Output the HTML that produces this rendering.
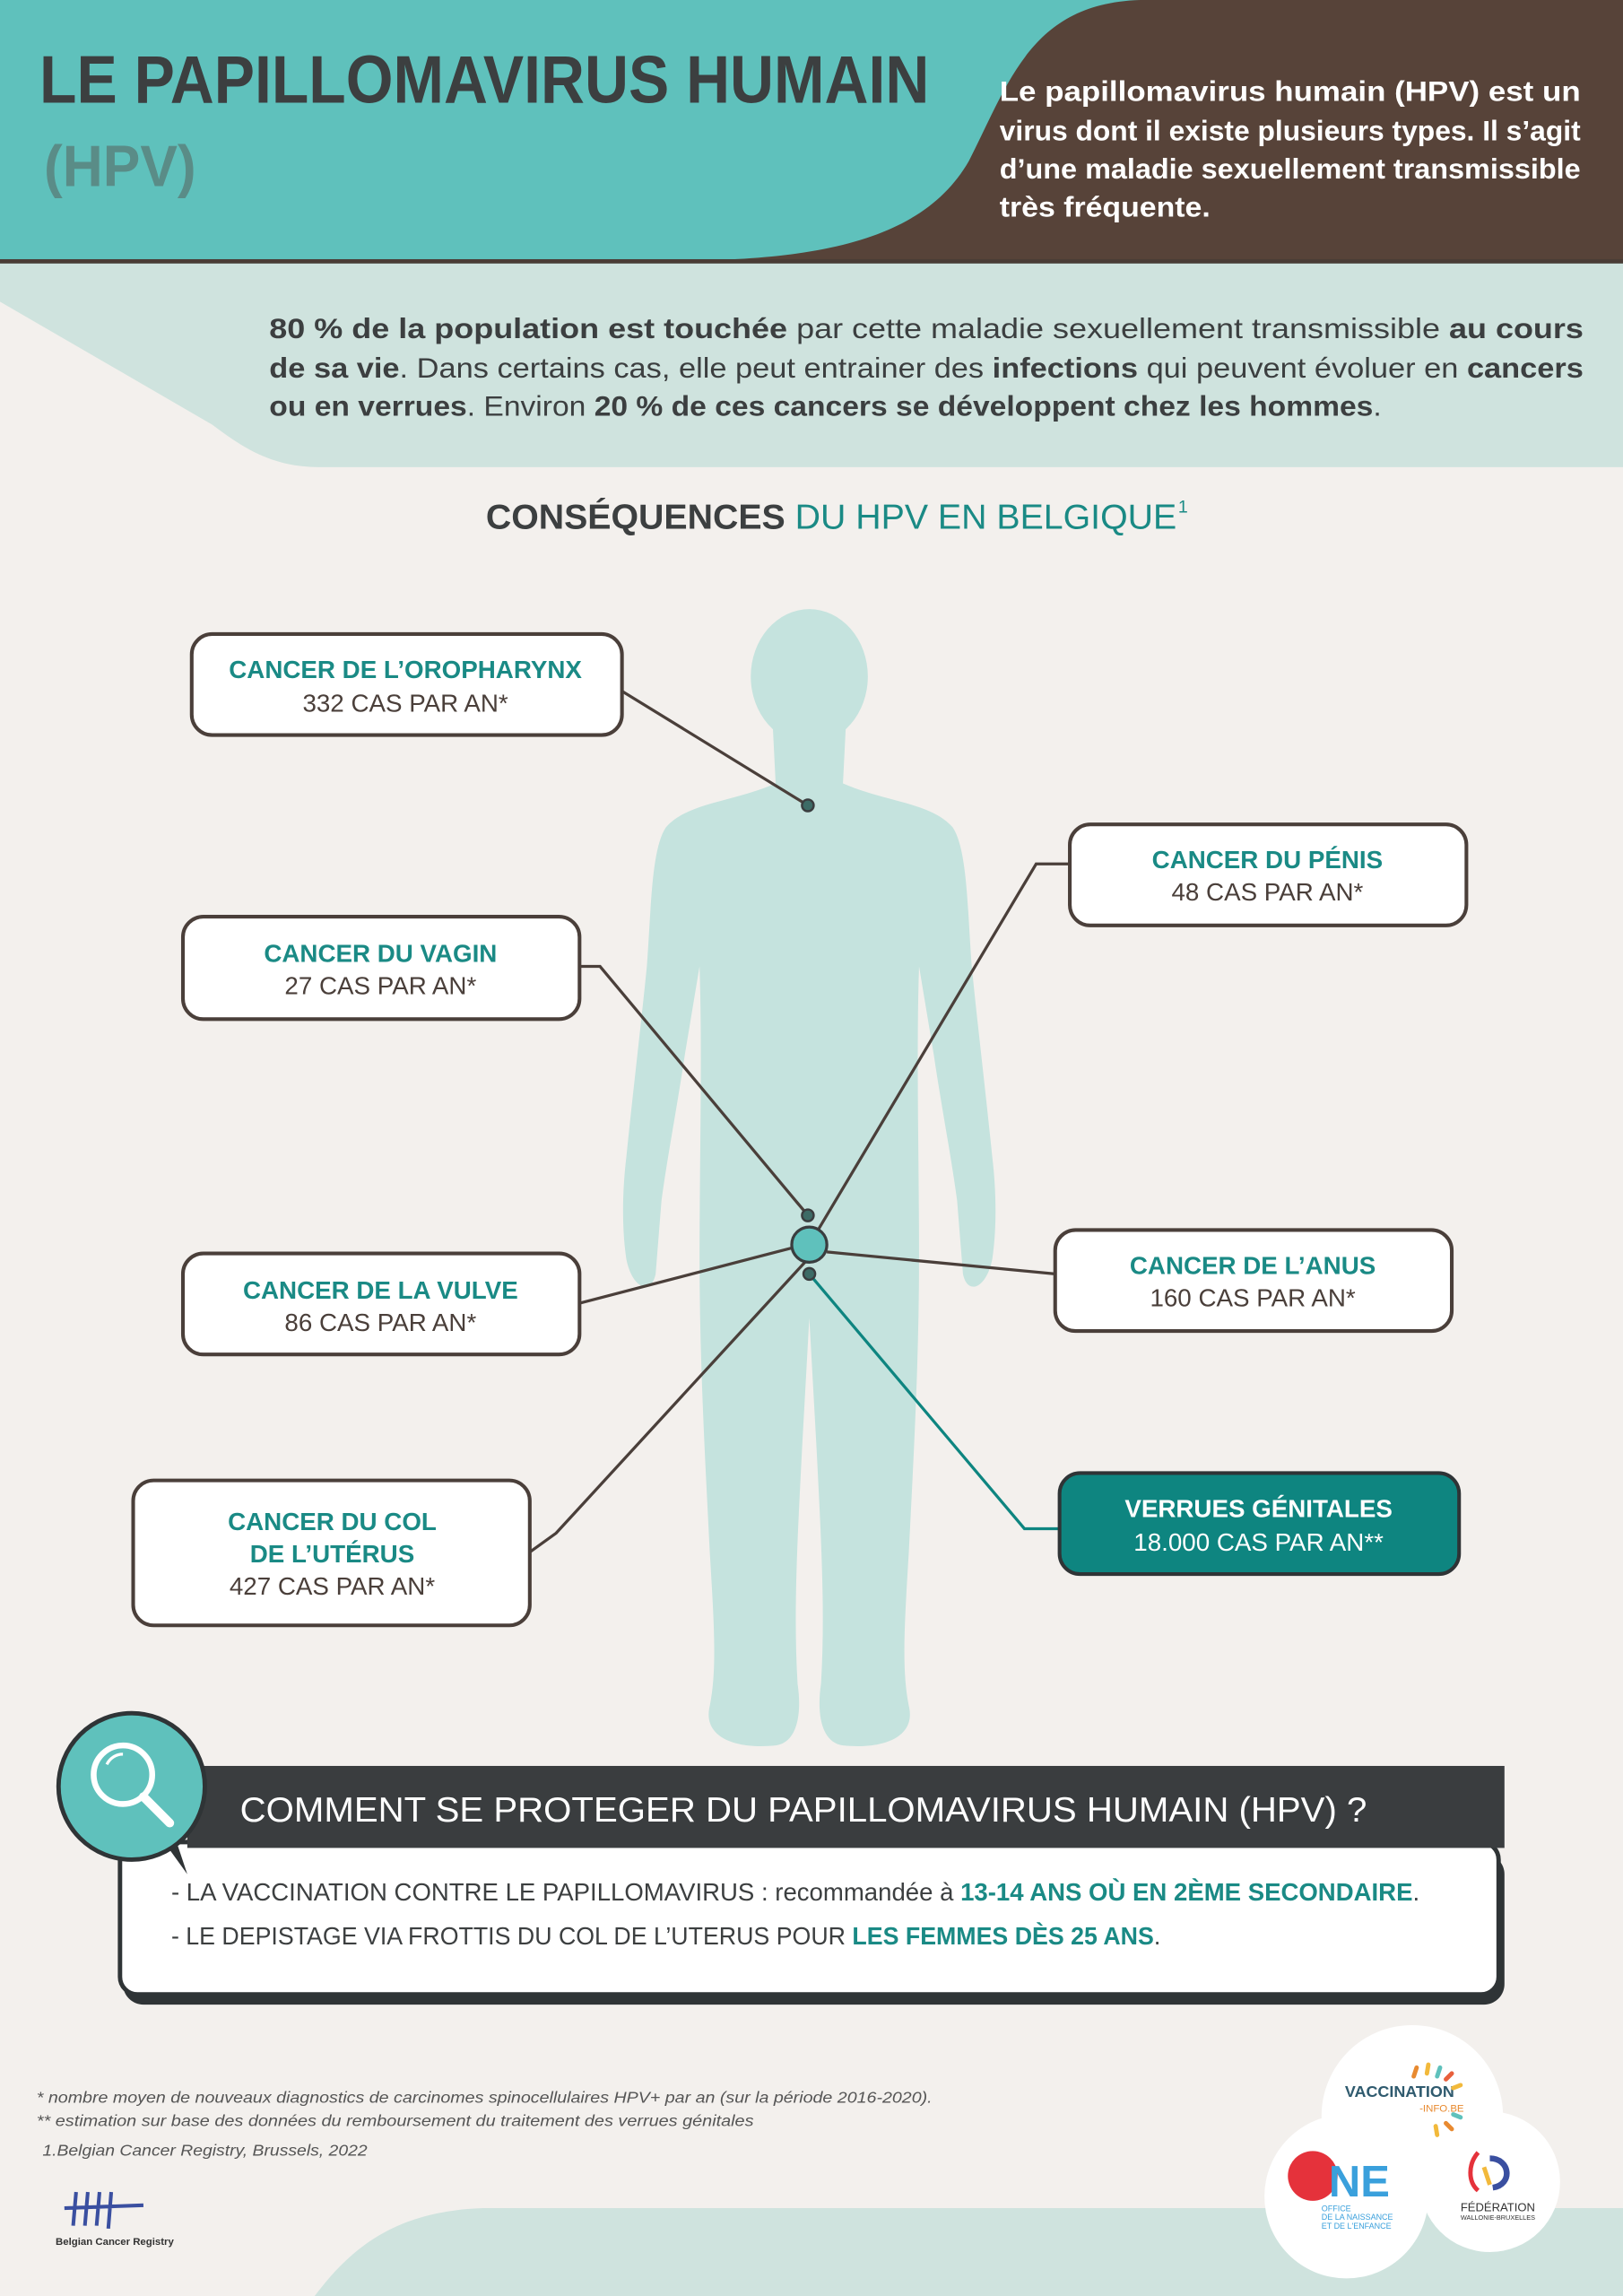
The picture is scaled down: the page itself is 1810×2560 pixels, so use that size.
<!DOCTYPE html>
<html><head><meta charset="utf-8"><style>
html,body{margin:0;padding:0;background:#f3f0ed;}
svg{display:block}
text{font-family:"Liberation Sans",sans-serif;}
</style></head><body>
<svg width="1810" height="2560" viewBox="0 0 1109 1568" preserveAspectRatio="none" xmlns="http://www.w3.org/2000/svg">
<rect width="1109" height="1568" fill="#f3f0ed"/>
<!-- header -->
<rect x="0" y="0" width="1109" height="180" fill="#5fc1bc"/>
<path d="M780 0 C705 2 690 55 662 110 C632 162 565 178 460 178 L1109 178 L1109 0 Z" fill="#574339"/>
<rect x="0" y="177" width="1109" height="3" fill="#4a3d36"/>
<text x="27" y="70" font-size="46" font-weight="bold" fill="#3c3f40" textLength="608" lengthAdjust="spacingAndGlyphs">LE PAPILLOMAVIRUS HUMAIN</text>
<text x="30" y="127" font-size="40" font-weight="bold" fill="#5a8c87" textLength="104" lengthAdjust="spacingAndGlyphs">(HPV)</text>
<g font-size="19" fill="#fff" font-weight="bold">
<text x="683" y="69" textLength="397" lengthAdjust="spacingAndGlyphs">Le papillomavirus humain (HPV) est un</text>
<text x="683" y="96" textLength="397" lengthAdjust="spacingAndGlyphs">virus dont il existe  plusieurs types. Il s’agit</text>
<text x="683" y="122" textLength="397" lengthAdjust="spacingAndGlyphs">d’une maladie sexuellement transmissible</text>
<text x="683" y="148" textLength="144" lengthAdjust="spacingAndGlyphs">très fréquente.</text>
</g>
<!-- mint band -->
<path d="M0 180 H1109 V319 H218 C185 319 165 305 145 290 L0 206 Z" fill="#cfe3de"/>
<g font-size="19" fill="#3c3f40">
<text x="184" y="231" textLength="898" lengthAdjust="spacingAndGlyphs"><tspan font-weight="bold">80 % de la population est touchée</tspan> par cette maladie sexuellement transmissible <tspan font-weight="bold">au cours</tspan></text>
<text x="184" y="258" textLength="898" lengthAdjust="spacingAndGlyphs"><tspan font-weight="bold">de sa vie</tspan>. Dans certains cas, elle peut entrainer des <tspan font-weight="bold">infections</tspan> qui peuvent évoluer en <tspan font-weight="bold">cancers</tspan></text>
<text x="184" y="284" textLength="760" lengthAdjust="spacingAndGlyphs"><tspan font-weight="bold">ou en verrues</tspan>.  Environ <tspan font-weight="bold">20 % de ces cancers se développent chez les hommes</tspan>.</text>
</g>
<text x="332" y="361" font-size="24" textLength="472" lengthAdjust="spacingAndGlyphs"><tspan font-weight="bold" fill="#3c3f40">CONSÉQUENCES</tspan><tspan fill="#1a8a85"> DU HPV EN BELGIQUE</tspan></text>
<text x="805" y="350" font-size="12" fill="#1a8a85">1</text>
<!-- body silhouette -->
<g fill="#c5e3de">
<ellipse cx="553" cy="462" rx="40" ry="46"/>
<path d="M528 495 L530 535 C500 548 470 548 455 565 C445 580 445 620 442 660 C438 700 432 750 428 790 C425 815 425 840 428 860 C432 880 445 885 448 870 L452 820 C456 790 462 760 468 720 L478 660 C480 720 478 790 478 860 C478 930 482 1000 485 1060 C488 1110 490 1140 485 1165 C480 1185 500 1195 530 1192 C545 1190 548 1170 545 1150 C542 1100 545 1050 548 990 L553 900 L558 990 C561 1050 564 1100 561 1150 C558 1170 561 1190 576 1192 C606 1195 626 1185 621 1165 C616 1140 618 1110 621 1060 C624 1000 628 930 628 860 C628 790 626 720 628 660 L638 720 C644 760 650 790 654 820 L658 870 C661 885 674 880 678 860 C681 840 681 815 678 790 C674 750 668 700 664 660 C661 620 661 580 651 565 C636 548 606 548 576 535 L578 495 Z"/>
</g>
<!-- connectors -->
<g stroke="#4a3f3a" stroke-width="2" fill="none">
<path d="M425 472 L552 550"/>
<path d="M731 590 L708 590 L556 845"/>
<path d="M396 660 L410 660 L552 830"/>
<path d="M396 890 L542 852"/>
<path d="M565 855 L721 870"/>
<path d="M362 1060 L380 1047 L550 862"/>
</g>
<path d="M553 870 L700 1044 L724 1044" stroke="#0e8580" stroke-width="2" fill="none"/>
<g stroke="#3a3d3f" stroke-width="1.5" fill="#3d6b66">
<circle cx="552" cy="550" r="4"/>
<circle cx="552" cy="830" r="4"/>
<circle cx="553" cy="870" r="4"/>
</g>
<circle cx="553" cy="850" r="12" fill="#5fc1bc" stroke="#3a3d3f" stroke-width="2"/>
<!-- boxes -->
<g stroke="#4a3f3a" stroke-width="2.5" fill="#fff">
<rect x="131" y="433" width="294" height="69" rx="14"/>
<rect x="731" y="563" width="271" height="69" rx="14"/>
<rect x="125" y="626" width="271" height="70" rx="14"/>
<rect x="125" y="856" width="271" height="69" rx="14"/>
<rect x="721" y="840" width="271" height="69" rx="14"/>
<rect x="91" y="1011" width="271" height="99" rx="14"/>
<rect x="724" y="1006" width="273" height="69" rx="14" fill="#0e8580" stroke="#2f3436"/>
</g>
<g font-size="17" text-anchor="middle">
<text x="277" y="463" font-weight="bold" fill="#1a8a85">CANCER DE L’OROPHARYNX</text>
<text x="277" y="486" fill="#4a3f3a">332 CAS PAR AN*</text>
<text x="866" y="593" font-weight="bold" fill="#1a8a85">CANCER DU PÉNIS</text>
<text x="866" y="615" fill="#4a3f3a">48 CAS PAR AN*</text>
<text x="260" y="657" font-weight="bold" fill="#1a8a85">CANCER DU VAGIN</text>
<text x="260" y="679" fill="#4a3f3a">27 CAS PAR AN*</text>
<text x="260" y="887" font-weight="bold" fill="#1a8a85">CANCER DE LA VULVE</text>
<text x="260" y="909" fill="#4a3f3a">86 CAS PAR AN*</text>
<text x="856" y="870" font-weight="bold" fill="#1a8a85">CANCER DE L’ANUS</text>
<text x="856" y="892" fill="#4a3f3a">160 CAS PAR AN*</text>
<text x="227" y="1045" font-weight="bold" fill="#1a8a85">CANCER DU COL</text>
<text x="227" y="1067" font-weight="bold" fill="#1a8a85">DE L’UTÉRUS</text>
<text x="227" y="1089" fill="#4a3f3a">427 CAS PAR AN*</text>
<text x="860" y="1036" font-weight="bold" fill="#fff">VERRUES GÉNITALES</text>
<text x="860" y="1059" fill="#fff">18.000 CAS PAR AN**</text>
</g>
<!-- protection section -->
<rect x="84" y="1266" width="944" height="103" rx="14" fill="#2f3436"/>
<rect x="82" y="1258" width="942" height="104" rx="12" fill="#fff" stroke="#2f3436" stroke-width="3"/>
<rect x="128" y="1206" width="900" height="56" fill="#3a3d3f"/>
<text x="164" y="1244" font-size="24" fill="#fff" textLength="770" lengthAdjust="spacingAndGlyphs">COMMENT SE PROTEGER DU PAPILLOMAVIRUS HUMAIN (HPV) ?</text>
<path d="M110 1255 L128 1280 L118 1250 Z" fill="#2f3436"/>
<circle cx="90" cy="1220" r="50" fill="#5fc1bc" stroke="#2f3436" stroke-width="3"/>
<circle cx="84" cy="1212" r="20" fill="none" stroke="#fff" stroke-width="4"/>
<path d="M98 1227 L116 1245" stroke="#fff" stroke-width="6" stroke-linecap="round"/>
<path d="M73 1205 A12 12 0 0 1 84 1198" stroke="#fff" stroke-width="2" fill="none"/>
<g font-size="17" fill="#3c3f40">
<text x="117" y="1298" textLength="853" lengthAdjust="spacingAndGlyphs">- LA VACCINATION CONTRE LE PAPILLOMAVIRUS :  recommandée à <tspan fill="#1a8a85" font-weight="bold">13-14 ANS OÙ EN 2ÈME SECONDAIRE</tspan>.</text>
<text x="117" y="1328" textLength="676" lengthAdjust="spacingAndGlyphs">- LE DEPISTAGE VIA FROTTIS DU COL DE L’UTERUS POUR <tspan fill="#1a8a85" font-weight="bold">LES FEMMES DÈS 25 ANS</tspan>.</text>
</g>
<!-- footnotes -->
<g font-size="11" font-style="italic" fill="#555">
<text x="25" y="1436" textLength="612" lengthAdjust="spacingAndGlyphs">* nombre moyen de nouveaux diagnostics de carcinomes spinocellulaires HPV+ par an (sur la période 2016-2020).</text>
<text x="25" y="1452" textLength="490" lengthAdjust="spacingAndGlyphs">** estimation sur base des données du remboursement du traitement des verrues génitales</text>
<text x="29" y="1472" textLength="222" lengthAdjust="spacingAndGlyphs">1.Belgian Cancer Registry, Brussels, 2022</text>
</g>
<!-- bottom mint -->
<path d="M215 1568 C240 1535 270 1510 330 1508 L1109 1508 L1109 1568 Z" fill="#cfe3de"/>
<!-- BCR logo -->
<g stroke="#3a4fa0" stroke-width="2.5">
<path d="M52 1497 L50 1520 M60 1497 L58 1520 M68 1497 L66 1520 M76 1497 L74 1522 M44 1508 L98 1506"/>
</g>
<text x="38" y="1533" font-size="7" font-weight="bold" fill="#333">Belgian Cancer Registry</text>
<!-- logo cloud -->
<g fill="#fff">
<circle cx="965" cy="1445" r="62"/>
<circle cx="920" cy="1500" r="56"/>
<circle cx="1018" cy="1490" r="48"/>
</g>
<text x="919" y="1432" font-size="11" font-weight="bold" fill="#2f5a6e">VACCINATION</text>
<text x="970" y="1442" font-size="7" fill="#e88a30">-INFO.BE</text>
<g stroke-width="3" stroke-linecap="round">
<path d="M968 1412 L966 1418" stroke="#e88a30"/><path d="M976 1410 L975 1416" stroke="#f2b93b"/>
<path d="M984 1412 L982 1418" stroke="#5fc1bc"/><path d="M992 1416 L988 1420" stroke="#e8603c"/>
<path d="M998 1424 L993 1426" stroke="#f2b93b"/><path d="M998 1446 L993 1444" stroke="#5fc1bc"/>
<path d="M992 1454 L988 1450" stroke="#e88a30"/><path d="M982 1458 L981 1452" stroke="#f2b93b"/>
</g>
<circle cx="897" cy="1486" r="17" fill="#e5323b"/>
<text x="908" y="1500" font-size="30" font-weight="bold" fill="#3aa0dc">NE</text>
<text x="903" y="1510" font-size="5.5" fill="#3aa0dc">OFFICE</text>
<text x="903" y="1516" font-size="5.5" fill="#3aa0dc">DE LA NAISSANCE</text>
<text x="903" y="1522" font-size="5.5" fill="#3aa0dc">ET DE L'ENFANCE</text>
<path d="M1010 1470 C1003 1478 1003 1490 1010 1496" stroke="#e5323b" stroke-width="3" fill="none"/>
<path d="M1018 1474 C1032 1474 1034 1492 1020 1494" stroke="#3a4fa0" stroke-width="4" fill="none"/>
<path d="M1014 1480 L1018 1492" stroke="#f2b93b" stroke-width="3"/>
<text x="998" y="1510" font-size="8" fill="#333">FÉDÉRATION</text>
<text x="998" y="1516" font-size="4.5" fill="#333">WALLONIE-BRUXELLES</text>
</svg>
</body></html>
